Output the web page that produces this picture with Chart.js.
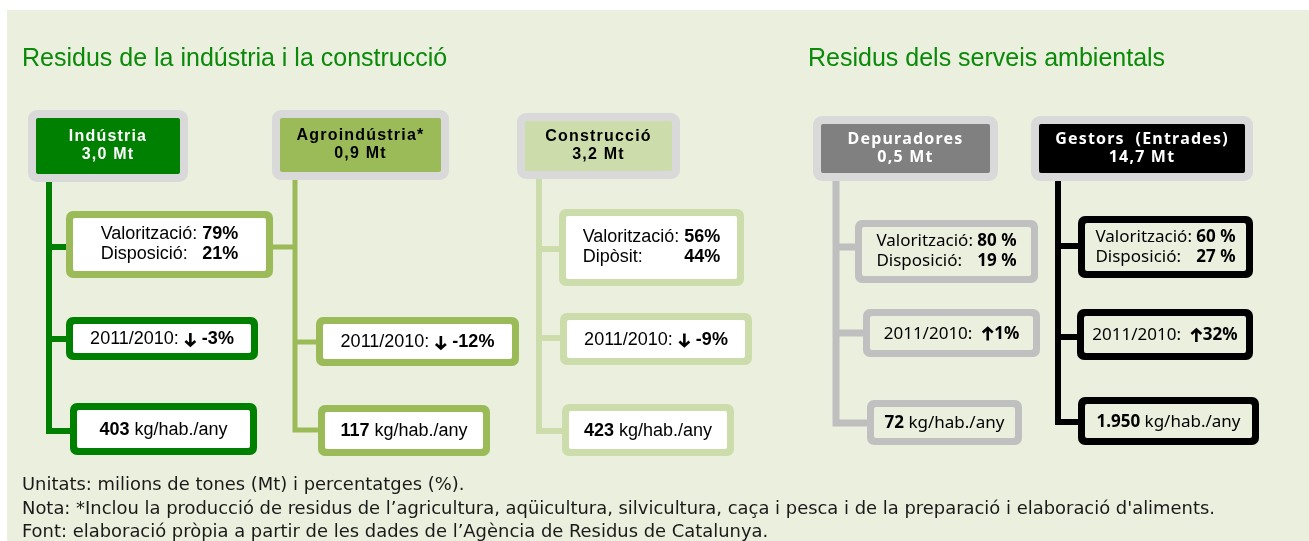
<html>
<head>
    <script src="https://cdn.jsdelivr.net/npm/chart.js@4.4.0/dist/chart.umd.min.js"></script>
    <style>body { margin: 0; background: #fff; }</style>
</head>
<body>
<canvas id="myChart" width="1309" height="541"></canvas>
<script>
// Values
const sections = ["Residus de la indústria i la construcció", "Residus dels serveis ambientals"];
const categories = ["Indústria", "Agroindústria*", "Construcció", "Depuradores", "Gestors  (Entrades)"];
const tonnes = [3.0, 0.9, 3.2, 0.5, 14.7];
const valoritzacio = [79, null, 56, 80, 60];
const disposicio = [21, null, 44, 19, 27];
const disposicioLabel = ["Disposició:", null, "Dipòsit:", "Disposició:", "Disposició:"];
const change = [-3, -12, -9, 1, 32];
const perCapita = [403, 117, 423, 72, 1950];
const notes = [
    "Unitats: milions de tones (Mt) i percentatges (%).",
    "Nota: *Inclou la producció de residus de l’agricultura, aqüicultura, silvicultura, caça i pesca i de la preparació i elaboració d'aliments.",
    "Font: elaboració pròpia a partir de les dades de l’Agència de Residus de Catalunya."
];

// Layout of the diagram (canvas units = scale units)
const BG = "#EBEFDD";
const LEFT_FONT = '"Liberation Sans", Arial, sans-serif';
const RIGHT_FONT = '"Noto Sans", sans-serif';
const cols = [
    { head: [28, 110, 188, 182], fill: "#008000", ink: "#FFFFFF", line: "#008000", lw: 6, x: 49, top: 180,
      branches: [[247, 66], [339, 66], [431, 70]], boxFill: "#FFFFFF", fam: LEFT_FONT, size: 18, pct: "%",
      boxes: [[66, 211, 273, 278, "#9BBB59"], [66, 317, 258, 360, "#008000"], [70, 403, 257, 455, "#008000"]] },
    { head: [272, 110, 449, 180], fill: "#9BBB59", ink: "#000000", line: "#9BBB59", lw: 5, x: 295, top: 180,
      branches: [[247, 273], [342, 316], [430, 318]], boxFill: "#FFFFFF", fam: LEFT_FONT, size: 18, pct: "%",
      boxes: [null, [316, 317, 519, 366, "#9BBB59"], [318, 405, 490, 456, "#9BBB59"]] },
    { head: [517, 113, 680, 179], fill: "#CCDCAA", ink: "#000000", line: "#CCDCAA", lw: 6, x: 539, top: 179,
      branches: [[249, 559], [338, 560], [431, 562]], boxFill: "#FFFFFF", fam: LEFT_FONT, size: 18, pct: "%",
      boxes: [[559, 209, 744, 286, "#CCDCAA"], [560, 313, 752, 365, "#CCDCAA"], [562, 404, 734, 456, "#CCDCAA"]] },
    { head: [813, 116, 998, 181], fill: "#808080", ink: "#FFFFFF", line: "#BFBFBF", lw: 7, x: 836, top: 181,
      branches: [[247, 855], [333, 863], [423, 867]], boxFill: BG, fam: RIGHT_FONT, size: 17, pct: " %",
      boxes: [[855, 220, 1038, 283, "#C0C0C0"], [863, 309, 1040, 357, "#C0C0C0"], [867, 400, 1022, 445, "#C0C0C0"]] },
    { head: [1031, 116, 1253, 181], fill: "#000000", ink: "#FFFFFF", line: "#000000", lw: 6, x: 1058, top: 181,
      branches: [[246, 1078], [337, 1077], [422, 1078]], boxFill: BG, fam: RIGHT_FONT, size: 17, pct: " %",
      boxes: [[1078, 216, 1253, 278, "#000000"], [1077, 309, 1253, 360, "#000000"], [1078, 397, 1259, 445, "#000000"]] }
];
const titlePos = [[22, 66], [808, 66]];
const notePos = [[22, 490], [22, 514], [22, 537]];

function fmtNum(v, dec) {
    let s = v.toFixed(dec).replace(".", ",");
    return s.replace(/\B(?=(\d{3})+(?!\d))/g, ".");
}

function rrect(ctx, x, y, w, h, r) {
    ctx.beginPath();
    ctx.moveTo(x + r, y);
    ctx.arcTo(x + w, y, x + w, y + h, r);
    ctx.arcTo(x + w, y + h, x, y + h, r);
    ctx.arcTo(x, y + h, x, y, r);
    ctx.arcTo(x, y, x + w, y, r);
    ctx.closePath();
}

// draw a bordered box, in scale units
function box(chart, r, border, fill, bw, rad) {
    const ctx = chart.ctx, sx = chart.scales.x, sy = chart.scales.y;
    const x0 = sx.getPixelForValue(r[0]), x1 = sx.getPixelForValue(r[2]);
    const y0 = sy.getPixelForValue(r[1]), y1 = sy.getPixelForValue(r[3]);
    ctx.fillStyle = border;
    rrect(ctx, x0, y0, x1 - x0, y1 - y0, rad);
    ctx.fill();
    ctx.fillStyle = fill;
    rrect(ctx, x0 + bw, y0 + bw, x1 - x0 - 2 * bw, y1 - y0 - 2 * bw, 2);
    ctx.fill();
    return { cx: (x0 + x1) / 2, cy: (y0 + y1) / 2 };
}

// heavy arrow glyph, up or down
const ARROW_W = 13;
function arrow(ctx, x, cy, up) {
    const h = 13, m = x + ARROW_W / 2, t = cy - h / 2, b = cy + h / 2;
    ctx.save();
    ctx.strokeStyle = "#000";
    ctx.lineWidth = 2.6;
    ctx.lineCap = "butt";
    ctx.lineJoin = "miter";
    ctx.beginPath();
    ctx.moveTo(m, t); ctx.lineTo(m, b);
    if (up) { ctx.moveTo(m - 5, t + 5); ctx.lineTo(m, t + 0.5); ctx.lineTo(m + 5, t + 5); }
    else { ctx.moveTo(m - 5, b - 5); ctx.lineTo(m, b - 0.5); ctx.lineTo(m + 5, b - 5); }
    ctx.stroke();
    ctx.restore();
}

// text made of regular/bold runs, centred on cx; p = [text, bold] or ["^"/"v" arrow]
function runs(ctx, parts, cx, cy, fam, size) {
    const font = p => (p[1] ? "bold " : "") + size + "px " + fam;
    const isArrow = p => p[0] === "^" || p[0] === "v";
    let w = 0;
    parts.forEach(p => {
        if (isArrow(p)) { w += ARROW_W; return; }
        ctx.font = font(p); w += ctx.measureText(p[0]).width;
    });
    let x = cx - w / 2;
    ctx.textAlign = "left";
    ctx.textBaseline = "middle";
    parts.forEach(p => {
        if (isArrow(p)) { arrow(ctx, x, cy, p[0] === "^"); x += ARROW_W; return; }
        ctx.font = font(p);
        ctx.fillText(p[0], x, cy);
        x += ctx.measureText(p[0]).width;
    });
}

const diagram = {
    id: "diagram",
    beforeDraw(chart) {
        const ctx = chart.ctx, sx = chart.scales.x, sy = chart.scales.y;
        ctx.save();
        ctx.fillStyle = "#FFFFFF";
        ctx.fillRect(0, 0, chart.width, chart.height);
        ctx.fillStyle = BG;
        ctx.fillRect(sx.getPixelForValue(7), sy.getPixelForValue(10), chart.width, chart.height);
        ctx.restore();
    },
    afterDraw(chart) {
        const ctx = chart.ctx, sx = chart.scales.x, sy = chart.scales.y;
        const X = v => sx.getPixelForValue(v), Y = v => sy.getPixelForValue(v);
        ctx.save();

        // section titles
        ctx.font = '25px "Liberation Sans", Arial, sans-serif';
        ctx.fillStyle = "#098A09";
        ctx.textAlign = "left";
        ctx.textBaseline = "alphabetic";
        sections.forEach((s, i) => ctx.fillText(s, X(titlePos[i][0]), Y(titlePos[i][1])));

        cols.forEach((c, i) => {
            // trunk and branches
            ctx.strokeStyle = c.line;
            ctx.lineWidth = c.lw;
            ctx.lineJoin = "miter";
            ctx.lineCap = "butt";
            const last = c.branches[c.branches.length - 1];
            ctx.beginPath();
            ctx.moveTo(X(c.x), Y(c.top));
            ctx.lineTo(X(c.x), Y(last[0]));
            ctx.lineTo(X(last[1]), Y(last[0]));
            ctx.stroke();
            c.branches.slice(0, -1).forEach(b => {
                ctx.beginPath();
                ctx.moveTo(X(c.x), Y(b[0]));
                ctx.lineTo(X(b[1]), Y(b[0]));
                ctx.stroke();
            });

            // header
            const h = box(chart, c.head, "#D9D9D9", c.fill, 8, 9);
            ctx.fillStyle = c.ink;
            ctx.letterSpacing = "1.2px";
            runs(ctx, [[categories[i], true]], h.cx, h.cy - 9, c.fam, 16);
            runs(ctx, [[fmtNum(tonnes[i], 1) + " Mt", true]], h.cx, h.cy + 9, c.fam, 16);
            ctx.letterSpacing = "0px";

            const size = c.size;
            // split box
            if (c.boxes[0]) {
                const b = box(chart, c.boxes[0], c.boxes[0][4], c.boxFill, 7, 7);
                ctx.fillStyle = "#000";
                ctx.font = size + "px " + c.fam;
                const l1 = "Valorització: ", l2 = disposicioLabel[i];
                const v1 = valoritzacio[i] + c.pct, v2 = disposicio[i] + c.pct;
                const wl1 = ctx.measureText(l1).width;
                ctx.font = "bold " + size + "px " + c.fam;
                const wv1 = ctx.measureText(v1).width;
                const left = b.cx - (wl1 + wv1) / 2, right = left + wl1 + wv1;
                ctx.textBaseline = "middle";
                ctx.textAlign = "left";
                ctx.font = size + "px " + c.fam;
                ctx.fillText(l1, left, b.cy - 10);
                ctx.fillText(l2, left, b.cy + 10);
                ctx.font = "bold " + size + "px " + c.fam;
                ctx.textAlign = "right";
                ctx.fillText(v1, right, b.cy - 10);
                ctx.fillText(v2, right, b.cy + 10);
            }
            // change box
            const b2 = box(chart, c.boxes[1], c.boxes[1][4], c.boxFill, 7, 7);
            ctx.fillStyle = "#000";
            const v = change[i];
            const parts = v < 0
                ? [["2011/2010: ", false], ["v"], [" " + v + "%", true]]
                : [["2011/2010:  ", false], ["^"], [v + "%", true]];
            runs(ctx, parts, b2.cx, b2.cy + 1, c.fam, size);
            // per capita box
            const b3 = box(chart, c.boxes[2], c.boxes[2][4], c.boxFill, 7, 7);
            ctx.fillStyle = "#000";
            runs(ctx, [[fmtNum(perCapita[i], 0), true], [" kg/hab./any", false]], b3.cx, b3.cy + 1, c.fam, size);
        });

        // notes
        ctx.fillStyle = "#1A1A1A";
        ctx.textAlign = "left";
        ctx.textBaseline = "alphabetic";
        ctx.font = '18px "Liberation Sans Narrow", "DejaVu Sans Condensed", "Liberation Sans", sans-serif';
        const k = 1193 / ctx.measureText(notes[1]).width;
        notes.forEach((n, i) => {
            ctx.save();
            ctx.translate(X(notePos[i][0]), Y(notePos[i][1]));
            ctx.scale(k, 1);
            ctx.fillText(n, 0, 0);
            ctx.restore();
        });
        ctx.restore();
    }
};

const ctx = document.getElementById("myChart").getContext("2d");
const chart = new Chart(ctx, {
    type: "scatter",
    data: { datasets: [{ data: [], pointRadius: 0 }] },
    options: {
        responsive: false,
        animation: false,
        devicePixelRatio: 1,
        layout: { padding: 0 },
        plugins: { legend: { display: false }, tooltip: { enabled: false } },
        scales: {
            x: { type: "linear", min: 0, max: 1309, display: false },
            y: { type: "linear", min: 0, max: 541, reverse: true, display: false }
        }
    },
    plugins: [diagram]
});
</script>
</body>
</html>
